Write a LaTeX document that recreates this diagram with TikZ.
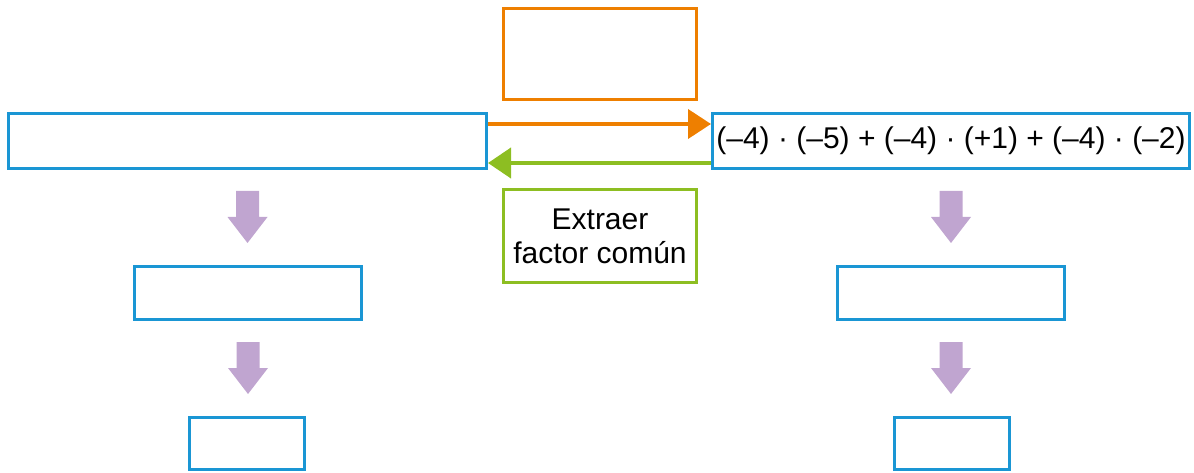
\documentclass[tikz,border=0pt]{standalone}
\usepackage{fontspec}
\setmainfont{Liberation Sans}
\usetikzlibrary{arrows.meta,calc}
\definecolor{cblue}{HTML}{1A96D4}
\definecolor{corange}{HTML}{EE7F00}
\definecolor{cgreen}{HTML}{8DBE22}
\definecolor{cpurple}{HTML}{C0A5D0}
\tikzset{
  box/.style={draw=cblue, line width=3pt, rectangle, inner sep=0pt},
  obox/.style={draw=corange, line width=3pt, rectangle, inner sep=0pt, minimum width=193pt, minimum height=91pt},
  gbox/.style={draw=cgreen, line width=3pt, rectangle, inner sep=0pt, minimum width=193pt, minimum height=93pt, align=center, font=\fontsize{30}{34}\selectfont},
  bigbox/.style={box, minimum width=478pt, minimum height=55pt},
  midbox/.style={box, minimum width=227pt, minimum height=53pt},
  smallbox/.style={box, minimum width=115pt, minimum height=52pt},
  oarrow/.style={draw=corange, line width=4pt, -{Triangle[length=23pt,width=29pt]}},
  garrow/.style={draw=cgreen, line width=4pt, -{Triangle[length=23pt,width=30pt]}},
  downarrow/.pic={\fill[cpurple] (-11.5pt,0) -- (11.5pt,0) -- (11.5pt,-26pt) -- (20pt,-26pt) -- (0,-52pt) -- (-20pt,-26pt) -- (-11.5pt,-26pt) -- cycle;}
}
\begin{document}
\begin{tikzpicture}[x=1pt,y=-1pt]
\useasboundingbox (0,0) rectangle (1194,473);
\node[obox] (top) at (600,54) {};
\node[bigbox] (L) at (247.5,141) {};
\node[bigbox, minimum width=477pt] (R) at (951,141) {\fontsize{30}{34}\selectfont(–4) · (–5) + (–4) · (+1) + (–4) · (–2)};
\node[gbox] (G) at (600,236) {Extraer\\factor común};
\node[midbox] (L2) at (248,293) {};
\node[midbox] (R2) at (951,293) {};
\node[smallbox] (L3) at (247,443.5) {};
\node[smallbox] (R3) at (951.5,443.5) {};
\draw[oarrow] ([yshift=17pt]L.east) -- ([yshift=17pt]R.west);
\draw[garrow] ([yshift=-22pt]R.west) -- ([yshift=-22pt]L.east);
\pic at ($(L.south)+(0,21)$) {downarrow};
\pic at ($(L2.south)+(0,21)$) {downarrow};
\pic at ($(R.south)+(0,21)$) {downarrow};
\pic at ($(R2.south)+(0,21)$) {downarrow};
\end{tikzpicture}
\end{document}
